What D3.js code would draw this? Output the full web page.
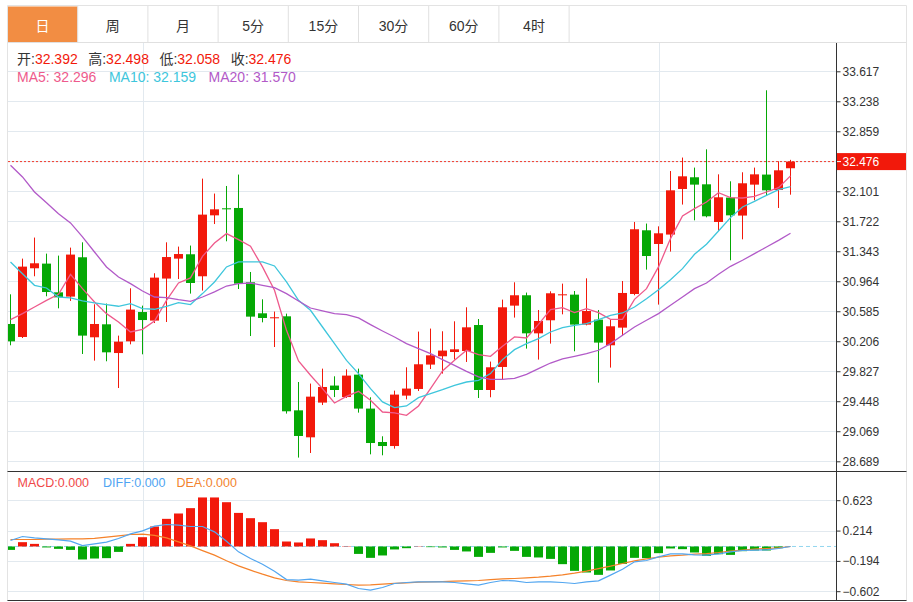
<!DOCTYPE html>
<html>
<head>
<meta charset="utf-8">
<script src="https://cdn.jsdelivr.net/npm/d3@7"></script>
<style>
  body { margin: 0; background: #fff; }
  svg { display: block; font-family: "Liberation Sans", "Noto Sans CJK SC", sans-serif; }
</style>
</head>
<body>
<svg id="chart" width="913" height="602"></svg>
<script>
var tabs = ["日", "周", "月", "5分", "15分", "30分", "60分", "4时"];
var ohlcNames = ["开", "高", "低", "收"];

var opens = [30.424, 30.260, 31.128, 31.187, 30.824, 30.770, 31.267, 30.256, 30.420, 30.057,
  30.205, 30.575, 30.467, 30.998, 31.250, 31.305, 31.027, 31.797, 31.886, 31.890,
  30.951, 30.559, 30.496, 30.521, 29.333, 28.992, 29.431, 29.646, 29.501, 29.784,
  29.355, 28.933, 28.882, 29.519, 29.603, 29.911, 30.016, 30.070, 30.083, 30.411,
  29.590, 29.881, 30.656, 30.787, 30.306, 30.471, 30.787, 30.795, 30.416, 30.479,
  30.155, 30.378, 30.803, 31.608, 31.435, 31.554, 32.130, 32.278, 32.189, 31.713,
  32.021, 31.794, 32.185, 32.312, 32.117, 32.392];
var highs = [30.799, 31.250, 31.516, 31.313, 31.288, 31.389, 31.456, 30.673, 30.682, 30.277,
  30.875, 30.656, 31.065, 31.456, 31.402, 31.415, 32.261, 32.072, 32.168, 32.312,
  31.081, 30.736, 30.581, 30.555, 29.691, 29.671, 29.860, 29.763, 29.851, 29.860,
  29.498, 29.005, 29.582, 29.877, 30.328, 30.366, 30.332, 30.458, 30.635, 30.487,
  29.949, 30.732, 30.951, 30.821, 30.601, 30.837, 30.934, 30.841, 31.001, 30.601,
  30.479, 30.967, 31.713, 31.693, 31.658, 32.357, 32.527, 32.400, 32.631, 32.315,
  32.227, 32.341, 32.400, 33.377, 32.480, 32.498];
var lows = [30.155, 30.247, 31.027, 30.774, 30.622, 30.715, 30.045, 29.961, 29.953, 29.615,
  30.167, 30.041, 30.436, 30.449, 30.992, 30.808, 30.846, 31.687, 31.469, 30.866,
  30.272, 30.445, 30.133, 29.292, 28.736, 28.794, 29.400, 29.501, 29.489, 29.304,
  28.777, 28.765, 28.849, 29.472, 29.577, 29.855, 29.797, 29.974, 29.944, 29.489,
  29.498, 29.725, 30.505, 30.113, 29.974, 30.176, 30.546, 30.079, 30.407, 29.683,
  29.873, 30.272, 30.787, 31.111, 30.669, 31.339, 31.933, 31.734, 31.772, 31.599,
  31.229, 31.494, 31.987, 32.050, 31.890, 32.058];
var closes = [30.205, 31.149, 31.191, 30.828, 30.761, 31.301, 30.277, 30.424, 30.066, 30.201,
  30.606, 30.474, 31.010, 31.270, 31.308, 30.942, 31.806, 31.873, 31.873, 30.934,
  30.517, 30.500, 30.509, 29.321, 29.009, 29.506, 29.628, 29.590, 29.772, 29.355,
  28.920, 28.882, 29.532, 29.608, 29.915, 30.028, 30.088, 30.104, 30.382, 29.590,
  29.877, 30.635, 30.787, 30.306, 30.462, 30.812, 30.799, 30.416, 30.588, 30.189,
  30.395, 30.816, 31.621, 31.283, 31.570, 32.113, 32.290, 32.185, 31.785, 32.025,
  31.797, 32.202, 32.315, 32.113, 32.366, 32.476];

var ma5 = [30.479, 30.555, 30.639, 30.723, 30.799, 31.052, 30.871, 30.702, 30.555, 30.450,
  30.323, 30.357, 30.462, 30.723, 30.942, 31.006, 31.279, 31.448, 31.566, 31.490,
  31.406, 31.145, 30.850, 30.344, 29.957, 29.776, 29.607, 29.426, 29.510, 29.573,
  29.460, 29.312, 29.300, 29.270, 29.388, 29.607, 29.830, 29.965, 30.092, 30.037,
  30.016, 30.142, 30.260, 30.247, 30.420, 30.605, 30.631, 30.567, 30.618, 30.567,
  30.483, 30.483, 30.736, 30.871, 31.145, 31.503, 31.789, 31.882, 31.966, 32.084,
  32.021, 32.016, 32.037, 32.092, 32.147, 32.296];
var ma10 = [31.208, 31.060, 30.913, 30.879, 30.765, 30.753, 30.715, 30.690, 30.669, 30.648,
  30.681, 30.618, 30.610, 30.648, 30.694, 30.669, 30.808, 30.955, 31.145, 31.208,
  31.208, 31.208, 31.157, 30.955, 30.723, 30.597, 30.386, 30.176, 29.965, 29.797,
  29.607, 29.439, 29.367, 29.388, 29.493, 29.544, 29.594, 29.649, 29.691, 29.712,
  29.797, 29.974, 30.100, 30.176, 30.239, 30.323, 30.378, 30.407, 30.428, 30.479,
  30.534, 30.563, 30.639, 30.744, 30.858, 30.984, 31.123, 31.305, 31.431, 31.599,
  31.768, 31.903, 31.974, 32.050, 32.122, 32.159];
var ma20 = [32.429, 32.282, 32.092, 31.957, 31.818, 31.701, 31.524, 31.334, 31.145, 31.018,
  30.934, 30.841, 30.765, 30.757, 30.732, 30.711, 30.765, 30.829, 30.904, 30.934,
  30.942, 30.913, 30.883, 30.808, 30.715, 30.626, 30.589, 30.555, 30.542, 30.500,
  30.416, 30.336, 30.260, 30.176, 30.113, 30.049, 29.974, 29.902, 29.826, 29.755,
  29.725, 29.725, 29.738, 29.788, 29.860, 29.931, 29.982, 30.016, 30.049, 30.092,
  30.176, 30.281, 30.386, 30.471, 30.555, 30.660, 30.765, 30.871, 30.942, 31.052,
  31.153, 31.229, 31.313, 31.397, 31.481, 31.570];

var macd = [-0.046, 0.058, 0.035, -0.013, -0.032, -0.046, -0.175, -0.162, -0.157, -0.073,
  0.035, 0.125, 0.269, 0.372, 0.444, 0.516, 0.660, 0.660, 0.596, 0.452,
  0.381, 0.327, 0.233, 0.067, 0.054, 0.108, 0.085, 0.044, 0.005, -0.100,
  -0.153, -0.121, -0.040, -0.023, 0.004, -0.009, -0.013, -0.046, -0.067, -0.140,
  -0.086, -0.013, -0.059, -0.140, -0.148, -0.167, -0.238, -0.328, -0.350, -0.382,
  -0.323, -0.234, -0.153, -0.157, -0.090, -0.027, -0.036, -0.081, -0.127, -0.104,
  -0.113, -0.063, -0.054, -0.054, -0.023, 0.000];
var diff = [0.080, 0.134, 0.116, 0.103, 0.089, 0.071, 0.013, 0.035, 0.058, 0.107,
  0.170, 0.210, 0.273, 0.296, 0.287, 0.269, 0.269, 0.197, 0.071, -0.072,
  -0.162, -0.238, -0.332, -0.445, -0.454, -0.440, -0.463, -0.485, -0.507, -0.566,
  -0.588, -0.552, -0.498, -0.485, -0.476, -0.476, -0.476, -0.485, -0.503, -0.521,
  -0.485, -0.458, -0.463, -0.485, -0.476, -0.476, -0.485, -0.498, -0.476, -0.463,
  -0.386, -0.306, -0.207, -0.189, -0.140, -0.099, -0.099, -0.113, -0.117, -0.099,
  -0.072, -0.054, -0.050, -0.045, -0.027, 0.000];
var dea = [0.094, 0.094, 0.094, 0.098, 0.098, 0.103, 0.103, 0.110, 0.125, 0.143,
  0.161, 0.166, 0.150, 0.116, 0.062, 0.008, -0.055, -0.117, -0.193, -0.261,
  -0.319, -0.373, -0.422, -0.458, -0.476, -0.485, -0.494, -0.503, -0.512, -0.521,
  -0.516, -0.507, -0.498, -0.490, -0.481, -0.476, -0.472, -0.467, -0.463, -0.458,
  -0.445, -0.436, -0.431, -0.422, -0.413, -0.400, -0.382, -0.359, -0.332, -0.297,
  -0.265, -0.229, -0.193, -0.166, -0.144, -0.126, -0.117, -0.104, -0.095, -0.081,
  -0.063, -0.050, -0.036, -0.027, -0.018, 0.000];

var priceTicks = [33.617, 33.238, 32.859, 32.480, 32.101, 31.722, 31.343, 30.964, 30.585, 30.206, 29.827, 29.448, 29.069, 28.689];
var macdTicks = [0.623, 0.214, -0.194, -0.602];
var periodBreaks = [11, 54];

var red = "#f2190b", green = "#05a805", gridColor = "#e2e9ef", axisColor = "#333";
var maColors = { ma5: "#ee5a8c", ma10: "#3ec6dc", ma20: "#b25ac8" };

var svg = d3.select("#chart"),
    last = closes.length - 1,
    left = 8, right = 836,
    pTop = 43, pBottom = 471, mTop = 472, mBottom = 600;

var x = d3.scaleLinear().domain([0, last]).range([10.5, 790.5]);
var y = d3.scaleLinear().domain([28.689, 33.617]).range([461.3, 71.3]);
var ym = d3.scaleLinear().domain([-0.602, 0.623]).range([591.2, 500.2]);

// clips
var defs = svg.append("defs");
defs.append("clipPath").attr("id", "clipPrice").append("rect")
  .attr("x", left).attr("y", pTop).attr("width", right - left).attr("height", pBottom - pTop);
defs.append("clipPath").attr("id", "clipMacd").append("rect")
  .attr("x", left).attr("y", mTop).attr("width", right - left).attr("height", mBottom - mTop);

// frame and tabs
var tabW = 70.2;
svg.append("rect").attr("x", 8).attr("y", 6.5).attr("width", tabW - 0.7).attr("height", 35.5).attr("fill", "#f28d43");
tabs.forEach(function(t, i) {
  svg.append("line").attr("x1", 7.5 + tabW * (i + 1)).attr("x2", 7.5 + tabW * (i + 1))
    .attr("y1", 5.5).attr("y2", 42.5).attr("stroke", "#e0e0e0");
  svg.append("text").attr("x", 7.5 + tabW * i + tabW / 2).attr("y", 30.5)
    .attr("text-anchor", "middle").attr("font-size", 14)
    .attr("fill", i === 0 ? "#fff" : "#333").text(t);
});
svg.append("path").attr("d", "M7.5,601V5.5H906.5V601").attr("fill", "none").attr("stroke", "#e3e3e3");
svg.append("line").attr("x1", 7.5).attr("x2", 906.5).attr("y1", 42.5).attr("y2", 42.5).attr("stroke", "#e0e0e0");

// grid
svg.append("g").selectAll("line").data(priceTicks).enter().append("line")
  .attr("x1", left).attr("x2", right)
  .attr("y1", function(d) { return Math.round(y(d)) + 0.5; })
  .attr("y2", function(d) { return Math.round(y(d)) + 0.5; })
  .attr("stroke", gridColor);
svg.append("g").selectAll("line").data(macdTicks).enter().append("line")
  .attr("x1", left).attr("x2", right)
  .attr("y1", function(d) { return Math.round(ym(d)) + 0.5; })
  .attr("y2", function(d) { return Math.round(ym(d)) + 0.5; })
  .attr("stroke", gridColor);
svg.append("g").selectAll("line").data(periodBreaks).enter().append("line")
  .attr("x1", function(d) { return Math.round(x(d)) + 0.5; })
  .attr("x2", function(d) { return Math.round(x(d)) + 0.5; })
  .attr("y1", pTop).attr("y2", mBottom)
  .attr("stroke", gridColor);

// candles
var price = svg.append("g").attr("clip-path", "url(#clipPrice)");
var candle = price.selectAll(".candle").data(closes).enter().append("g").attr("class", "candle");
function col(i) { return closes[i] >= opens[i] ? red : green; }
candle.append("line")
  .attr("x1", function(d, i) { return x(i); })
  .attr("x2", function(d, i) { return x(i); })
  .attr("y1", function(d, i) { return y(highs[i]); })
  .attr("y2", function(d, i) { return y(lows[i]); })
  .attr("stroke", function(d, i) { return col(i); });
candle.append("rect")
  .attr("x", function(d, i) { return x(i) - 4.5; })
  .attr("width", 9)
  .attr("y", function(d, i) { return y(Math.max(opens[i], closes[i])); })
  .attr("height", function(d, i) { return Math.max(1, Math.abs(y(opens[i]) - y(closes[i]))); })
  .attr("fill", function(d, i) { return col(i); });

var line = d3.line().x(function(d, i) { return x(i); }).y(function(d) { return y(d); });
[["ma5", ma5], ["ma10", ma10], ["ma20", ma20]].forEach(function(s) {
  price.append("path").attr("d", line(s[1])).attr("fill", "none")
    .attr("stroke", maColors[s[0]]).attr("stroke-width", 1.3);
});

// current price
var yc = y(closes[last]);
svg.append("line").attr("x1", left).attr("x2", right).attr("y1", yc).attr("y2", yc)
  .attr("stroke", "#f03a2a").attr("stroke-dasharray", "2,2");

// macd panel
var mg = svg.append("g").attr("clip-path", "url(#clipMacd)");
mg.append("line").attr("x1", left).attr("x2", right).attr("y1", ym(0)).attr("y2", ym(0))
  .attr("stroke", "#92d6ef").attr("stroke-dasharray", "4,3");
mg.selectAll(".bar").data(macd).enter().append("rect")
  .attr("x", function(d, i) { return x(i) - 4.5; })
  .attr("width", 9)
  .attr("y", function(d) { return Math.min(ym(d), ym(0)); })
  .attr("height", function(d) { return Math.abs(ym(d) - ym(0)); })
  .attr("fill", function(d) { return d >= 0 ? red : green; });
var mline = d3.line().x(function(d, i) { return x(i); }).y(function(d) { return ym(d); });
mg.append("path").attr("d", mline(dea)).attr("fill", "none").attr("stroke", "#f5822a").attr("stroke-width", 1.2);
mg.append("path").attr("d", mline(diff)).attr("fill", "none").attr("stroke", "#52a6f0").attr("stroke-width", 1.2);

// panel borders and axis
svg.append("line").attr("x1", 7.5).attr("x2", 906.5).attr("y1", 471.5).attr("y2", 471.5).attr("stroke", axisColor);
svg.append("line").attr("x1", 7.5).attr("x2", 906.5).attr("y1", 600.5).attr("y2", 600.5).attr("stroke", axisColor);
svg.append("line").attr("x1", right + 0.5).attr("x2", right + 0.5).attr("y1", pTop).attr("y2", 600.5).attr("stroke", axisColor);

var yAxis = d3.axisRight(y).tickValues(priceTicks.filter(function(d) { return Math.abs(y(d) - yc) > 10; }))
  .tickSize(4).tickPadding(2).tickFormat(d3.format(".3f"));
var ax = svg.append("g").attr("transform", "translate(" + (right + 0.5) + ",0)").call(yAxis);
var mAxis = d3.axisRight(ym).tickValues(macdTicks).tickSize(4).tickPadding(2).tickFormat(d3.format(".3f"));
var mx = svg.append("g").attr("transform", "translate(" + (right + 0.5) + ",0)").call(mAxis);
[ax, mx].forEach(function(a) {
  a.select(".domain").remove();
  a.selectAll(".tick line").attr("stroke", axisColor);
  a.selectAll(".tick text").attr("fill", axisColor).attr("font-size", 12)
    .attr("font-family", "Liberation Sans, sans-serif");
});

svg.append("rect").attr("x", right + 1).attr("y", yc - 8.5).attr("width", 906 - right - 1).attr("height", 17).attr("fill", red);
svg.append("line").attr("x1", right + 1).attr("x2", right + 5).attr("y1", yc).attr("y2", yc).attr("stroke", "#fff");
svg.append("text").attr("x", right + 6.5).attr("y", yc).attr("dy", "0.35em")
  .attr("font-size", 12).attr("fill", "#fff").text(closes[last].toFixed(3));

// legends
var ohlcVals = [opens[last], highs[last], lows[last], closes[last]];
var lg1 = svg.append("text").attr("x", 17).attr("y", 63.5).attr("font-size", 14);
ohlcNames.forEach(function(n, k) {
  lg1.append("tspan").attr("dx", k ? 10.5 : 0).attr("fill", "#333").text(n + ":");
  lg1.append("tspan").attr("fill", red).text(ohlcVals[k].toFixed(3));
});
var lg2 = svg.append("text").attr("x", 17).attr("y", 81.5).attr("font-size", 14);
[["MA5", ma5, "ma5"], ["MA10", ma10, "ma10"], ["MA20", ma20, "ma20"]].forEach(function(s, k) {
  lg2.append("tspan").attr("dx", k ? 12.5 : 0).attr("fill", maColors[s[2]])
    .text(s[0] + ": " + s[1][last].toFixed(3));
});
var macdLegendX = [17.5, 103, 176.5];
[["MACD", macd, "#f04848"], ["DIFF", diff, "#4ea4f2"], ["DEA", dea, "#f2832e"]].forEach(function(s, k) {
  svg.append("text").attr("x", macdLegendX[k]).attr("y", 486.5).attr("font-size", 12.5)
    .attr("fill", s[2]).text(s[0] + ":" + Math.abs(s[1][last]).toFixed(3));
});
</script>
</body>
</html>
